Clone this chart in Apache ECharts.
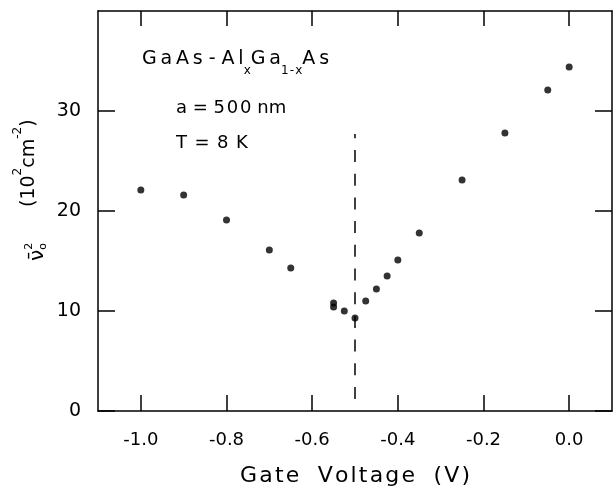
<!DOCTYPE html>
<html><head><meta charset="utf-8">
<script src="https://cdn.jsdelivr.net/npm/echarts@6/dist/echarts.min.js"></script>
<style>html,body{margin:0;padding:0;background:#fff}#c{width:613px;height:492px}</style>
</head><body><div id="c"></div>
<script>
// ---- data ----
const gateVoltage = [-1.0, -0.9, -0.8, -0.7, -0.65, -0.55, -0.55, -0.525, -0.5, -0.475, -0.45, -0.425, -0.4, -0.35, -0.25, -0.15, -0.05, 0.0];
const nuSquared   = [22.1, 21.6, 19.1, 16.1, 14.3, 10.8, 10.4, 10.0, 9.3, 11.0, 12.2, 13.5, 15.1, 17.8, 23.1, 27.8, 32.1, 34.4];
const dashX = [-0.5, -0.5];
const dashY = [1.2, 27.7];
const xTicks = [-1.0, -0.8, -0.6, -0.4, -0.2, 0.0];
const yTicks = [0, 10, 20, 30];

const FONT = '"DejaVu Sans"';
const TS = '\u2009';
const HS = '\u200A';
const spaced = (s, g) => s.split('').join(g || TS);

const ctx = document.createElement('canvas').getContext('2d');
function measure(t, size) { ctx.font = size + 'px ' + FONT; return ctx.measureText(t).width; }
// segs: [text, size, dy, noAdvance]
function lineChildren(segs, x0, y0) {
  let x = x0; const out = [];
  for (const s of segs) {
    const [t, size, dy, noAdvance] = s;
    out.push({ type: 'text', x: x, y: y0 + dy, style: { text: t, font: size + 'px ' + FONT, fill: '#000', align: 'left', verticalAlign: 'middle' } });
    if (!noAdvance) x += measure(t, size);
  }
  return out;
}

const chart = echarts.init(document.getElementById('c'), null, { renderer: 'canvas' });

const axisLineStyle = { color: '#000', width: 1.5 };
const graphics = [];
// annotation lines
graphics.push(...lineChildren([
  [spaced('GaAs') + ' - ' + spaced('Al'), 19, 0],
  ['x', 12, 12],
  [spaced('Ga'), 19, 0],
  [spaced('1-x', HS), 12, 12],
  [spaced('As'), 19, 0]
], 142, 59));
graphics.push(...lineChildren([['a = ' + spaced('500', HS) + ' nm', 18, 0]], 176, 108));
graphics.push(...lineChildren([['T' + HS + ' = ' + HS + '8' + HS + ' K', 18, 0]], 176, 143));

// rotated y-axis title
graphics.push({ type: 'group', x: 29.5, y: 207, rotation: Math.PI / 2,
  children: lineChildren([
    ['(10', 19, 0],
    ['2', 12, -12],
    ['cm', 19, 0],
    ['-2', 12, -12],
    [')', 19, 0]
  ], 0, 0) });
graphics.push({ type: 'group', x: 38, y: 261, rotation: Math.PI / 2,
  children: lineChildren([
    ['\u03BD\u0304', 20, 0],
    ['o', 11, 5, true],
    ['2', 11, -9]
  ], 0, 0) });

const option = {
  animation: false,
  backgroundColor: '#fff',
  grid: { left: 98, right: 1, top: 11, bottom: 78 },
  xAxis: [{
    type: 'value', min: -1.1, max: 0.1, position: 'bottom',
    axisLine: { show: true, onZero: false, lineStyle: axisLineStyle },
    axisTick: { show: true, inside: true, length: 16, customValues: xTicks, lineStyle: axisLineStyle },
    axisLabel: { customValues: xTicks, formatter: v => Number(v).toFixed(1), fontSize: 18, fontFamily: FONT, color: '#000', margin: 20 },
    splitLine: { show: false },
    name: ['Gate', 'Voltage', '(V)'].map(w => spaced(w, HS)).join(HS + '  ' + HS), nameLocation: 'middle', nameGap: 54,
    nameTextStyle: { fontSize: 22, fontFamily: FONT, color: '#000' }
  }, {
    type: 'value', min: -1.1, max: 0.1, position: 'top',
    axisLine: { show: true, onZero: false, lineStyle: axisLineStyle },
    axisTick: { show: true, inside: true, length: 15, customValues: xTicks, lineStyle: axisLineStyle },
    axisLabel: { show: false }, splitLine: { show: false }
  }],
  yAxis: [{
    type: 'value', min: 0, max: 40, interval: 10, position: 'left',
    axisLine: { show: true, onZero: false, lineStyle: axisLineStyle },
    axisTick: { show: true, inside: true, length: 17, customValues: yTicks, lineStyle: axisLineStyle },
    axisLabel: { customValues: yTicks, formatter: v => String(v), fontSize: 19, fontFamily: FONT, color: '#000', margin: 17 },
    splitLine: { show: false }
  }, {
    type: 'value', min: 0, max: 40, interval: 10, position: 'right',
    axisLine: { show: true, onZero: false, lineStyle: axisLineStyle },
    axisTick: { show: true, inside: true, length: 17, customValues: yTicks, lineStyle: axisLineStyle },
    axisLabel: { show: false }, splitLine: { show: false }
  }],
  series: [{
    type: 'scatter', xAxisIndex: 0, yAxisIndex: 0,
    data: gateVoltage.map((x, i) => [x, nuSquared[i]]),
    symbol: 'circle', symbolSize: 7, itemStyle: { color: '#000' }
  }, {
    type: 'line', xAxisIndex: 0, yAxisIndex: 0,
    data: dashX.map((x, i) => [x, dashY[i]]),
    symbol: 'none', lineStyle: { color: '#000', width: 1.5, type: [12, 11.7] }
  }],
  graphic: graphics
};
chart.setOption(option);
</script>
</body></html>
